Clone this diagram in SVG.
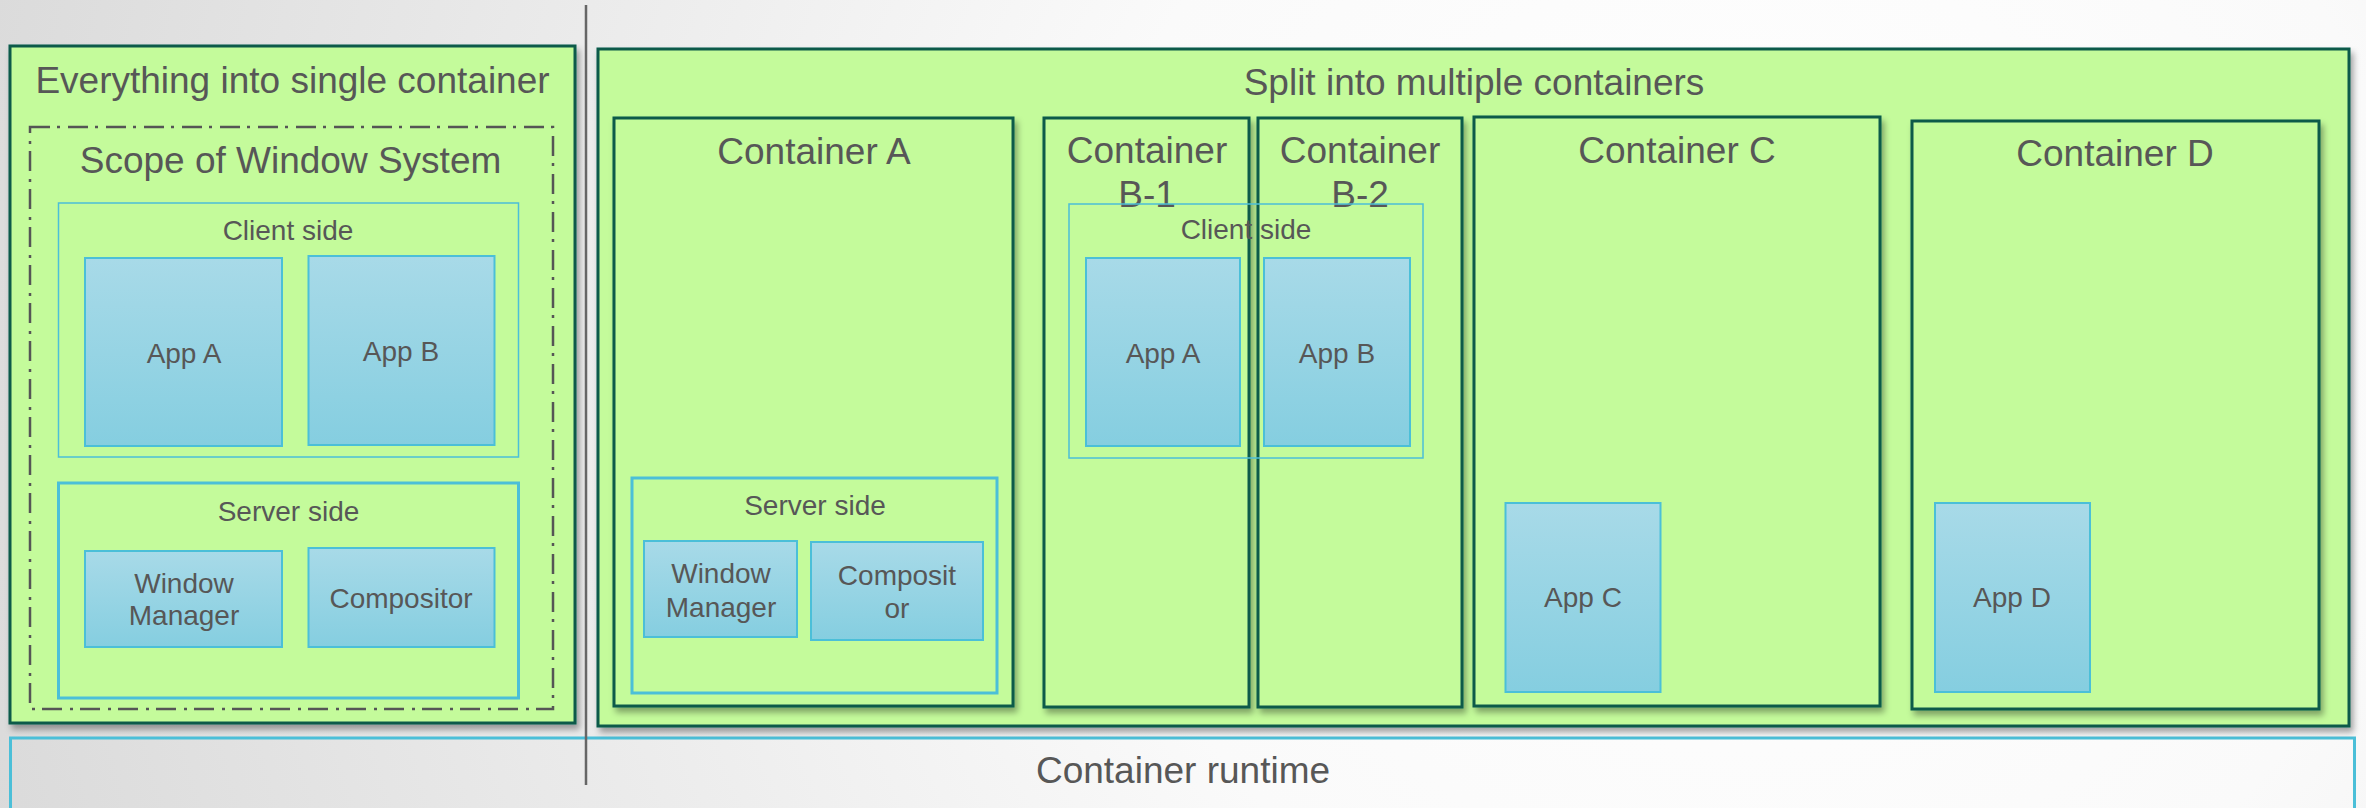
<svg xmlns="http://www.w3.org/2000/svg" width="2366" height="808" viewBox="0 0 2366 808">
<defs>
<radialGradient id="bg" cx="1750" cy="350" r="1900" gradientUnits="userSpaceOnUse">
<stop offset="0" stop-color="#ffffff"/>
<stop offset="0.35" stop-color="#fafafa"/>
<stop offset="1" stop-color="#d8d8d8"/>
</radialGradient>
<linearGradient id="app" x1="0" y1="0" x2="0" y2="1">
<stop offset="0" stop-color="#a8dae8"/>
<stop offset="1" stop-color="#85cee0"/>
</linearGradient>
<filter id="sh" x="-10%" y="-10%" width="130%" height="130%">
<feDropShadow dx="3" dy="5" stdDeviation="3" flood-color="#000" flood-opacity="0.35"/>
</filter>
</defs>
<style>
.bx{fill:#c4fb9b;stroke:#0d5a4a;stroke-width:3}
.side{fill:none;stroke:#4bbfd8}
.app{fill:url(#app);stroke:#4bbfd8;stroke-width:2}
.scope{fill:none;stroke:#555555;stroke-width:2.5;stroke-dasharray:20 7 3 8}
text{font-family:"Liberation Sans",Arial,sans-serif;fill:#575757;text-anchor:middle}
.t37{font-size:37px}
.t28{font-size:28px}
</style>
<rect x="0" y="0" width="2366" height="808" fill="url(#bg)"/>

<g id="runtime">
<rect x="10.5" y="738" width="2344" height="80" fill="none" stroke="#4bbfd8" stroke-width="3"/>
<text class="t37" x="1183" y="783">Container runtime</text>
</g>

<g id="single">
<rect class="bx" x="10" y="46" width="565" height="677" filter="url(#sh)"/>
<text class="t37" x="292.5" y="93">Everything into single container</text>
</g>
<g id="scope">
<rect class="scope" x="30" y="127" width="523" height="582"/>
<text class="t37" x="290.5" y="173">Scope of Window System</text>
</g>
<g id="client1">
<rect class="side" x="58.5" y="203" width="460" height="254" stroke-width="1.5"/>
<text class="t28" x="288" y="240">Client side</text>
</g>
<g id="appA1">
<rect class="app" x="85" y="258" width="197" height="188"/>
<text class="t28" x="184" y="363">App A</text>
</g>
<g id="appB1">
<rect class="app" x="308.5" y="256" width="186" height="189"/>
<text class="t28" x="401" y="361">App B</text>
</g>
<g id="server1">
<rect class="side" x="58.5" y="483" width="460" height="215" stroke-width="3"/>
<text class="t28" x="288.5" y="521">Server side</text>
</g>
<g id="wm1">
<rect class="app" x="85" y="551" width="197" height="96"/>
<text class="t28" x="184" y="593">Window</text>
<text class="t28" x="184" y="625">Manager</text>
</g>
<g id="comp1">
<rect class="app" x="308.5" y="548" width="186" height="99"/>
<text class="t28" x="401" y="608">Compositor</text>
</g>

<g id="connectors">
<line x1="586" y1="5" x2="586" y2="785" stroke="#666666" stroke-width="2.5"/>
</g>

<g id="split">
<rect class="bx" x="598" y="49" width="1751" height="677" filter="url(#sh)"/>
<text class="t37" x="1474" y="95">Split into multiple containers</text>
</g>
<g id="containerA">
<rect class="bx" x="614" y="118" width="399" height="588" filter="url(#sh)"/>
<text class="t37" x="814" y="164">Container A</text>
</g>
<g id="server2">
<rect class="side" x="632" y="478" width="365" height="215" stroke-width="3"/>
<text class="t28" x="815" y="515">Server side</text>
</g>
<g id="wm2">
<rect class="app" x="644" y="541" width="153" height="96"/>
<text class="t28" x="721" y="583">Window</text>
<text class="t28" x="721" y="617">Manager</text>
</g>
<g id="comp2">
<rect class="app" x="811" y="542" width="172" height="98"/>
<text class="t28" x="897" y="585">Composit</text>
<text class="t28" x="897" y="618">or</text>
</g>
<g id="containerB1">
<rect class="bx" x="1044" y="118" width="205" height="589" filter="url(#sh)"/>
<text class="t37" x="1147" y="163">Container</text>
<text class="t37" x="1147" y="207">B-1</text>
</g>
<g id="containerB2">
<rect class="bx" x="1258" y="118" width="204" height="589" filter="url(#sh)"/>
<text class="t37" x="1360" y="163">Container</text>
<text class="t37" x="1360" y="207">B-2</text>
</g>
<g id="containerC">
<rect class="bx" x="1474" y="117" width="406" height="589" filter="url(#sh)"/>
<text class="t37" x="1677" y="163">Container C</text>
</g>
<g id="containerD">
<rect class="bx" x="1912" y="121" width="407" height="588" filter="url(#sh)"/>
<text class="t37" x="2115" y="166">Container D</text>
</g>
<g id="client2">
<rect class="side" x="1069" y="204" width="354" height="254" stroke-width="1.5"/>
<text class="t28" x="1246" y="239">Client side</text>
</g>
<g id="appA2">
<rect class="app" x="1086" y="258" width="154" height="188"/>
<text class="t28" x="1163" y="363">App A</text>
</g>
<g id="appB2">
<rect class="app" x="1264" y="258" width="146" height="188"/>
<text class="t28" x="1337" y="363">App B</text>
</g>
<g id="appC">
<rect class="app" x="1505.5" y="503" width="155" height="189"/>
<text class="t28" x="1583" y="607">App C</text>
</g>
<g id="appD">
<rect class="app" x="1935" y="503" width="155" height="189"/>
<text class="t28" x="2012" y="607">App D</text>
</g>
</svg>
